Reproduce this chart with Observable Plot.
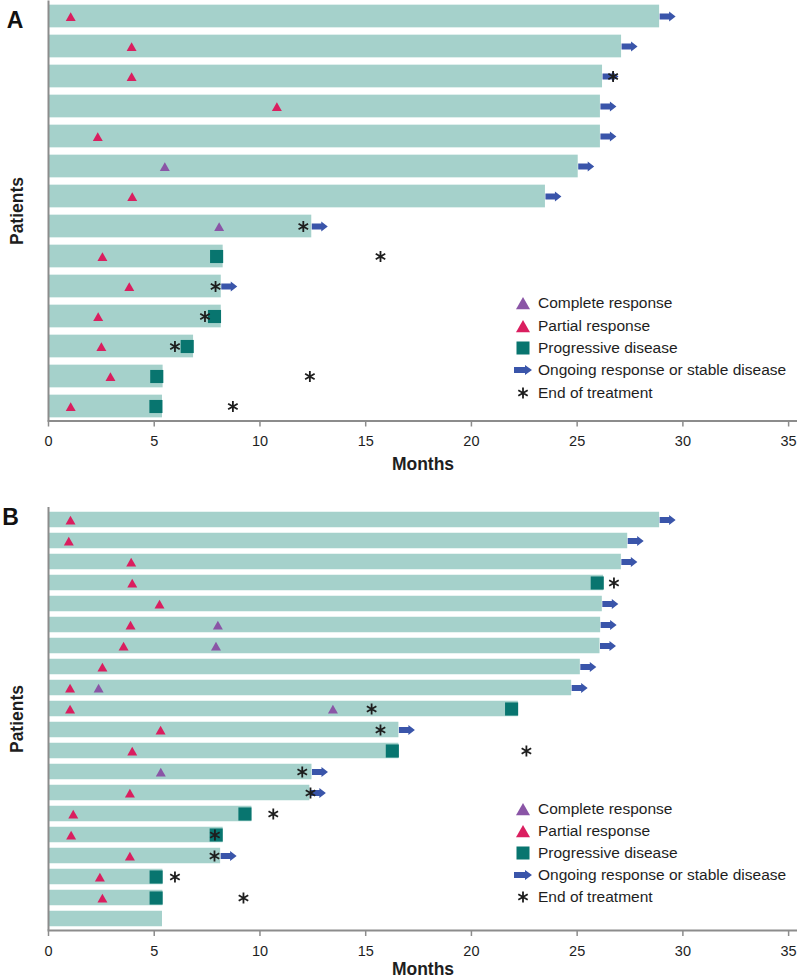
<!DOCTYPE html>
<html>
<head>
<meta charset="utf-8">
<script src="https://cdn.jsdelivr.net/npm/d3@7"></script>
<script src="https://cdn.jsdelivr.net/npm/@observablehq/plot@0.6"></script>
<style>
  html, body { margin: 0; padding: 0; background: #fff; }
  #wrap { position: relative; width: 797px; height: 980px; overflow: hidden; }
  .panel { position: absolute; left: 0; }
  .legend { position: absolute; font-family: 'Liberation Sans', Arial, Helvetica, sans-serif; font-size: 15.5px; color: #1e1e1e; }
  .legend .row { display: flex; align-items: center; white-space: nowrap; }
  .legend svg { display: block; margin-right: 4px; }
</style>
</head>
<body>
<div id="wrap">
  <div class="panel" id="pa" style="top:0px"></div>
  <div class="panel" id="pb" style="top:485px"></div>
  <div class="legend" id="la" style="left:512px;top:292px"></div>
  <div class="legend" id="lb" style="left:512px;top:798px"></div>
</div>
<script>
// ---------- data ----------
const monthTicks = [0, 5, 10, 15, 20, 25, 30, 35];
const legendLabels = ["Complete response", "Partial response", "Progressive disease", "Ongoing response or stable disease", "End of treatment"];

// Panel A (rows top to bottom)
const aRows = [1, 2, 3, 4, 5, 6, 7, 8, 9, 10, 11, 12, 13, 14];
const aEnd = [28.9, 27.1, 26.2, 26.1, 26.1, 25.05, 23.5, 12.45, 8.26, 8.17, 8.17, 6.86, 5.42, 5.39];
const aPartial = [[1, 1.05], [2, 3.93], [3, 3.93], [4, 10.8], [5, 2.33], [7, 3.96], [9, 2.55], [10, 3.82], [11, 2.35], [12, 2.5], [13, 2.93], [14, 1.05]];
const aComplete = [[6, 5.5], [8, 8.07]];
const aProgressive = [[9, 7.95], [11, 7.85], [12, 6.56], [13, 5.12], [14, 5.08]];
const aOngoing = [1, 2, 3, 4, 5, 6, 7, 8, 10];
const aEndTreatment = [[3, 26.7], [8, 12.05], [9, 15.7], [10, 7.9], [11, 7.4], [12, 5.98], [13, 12.36], [14, 8.72]];

// Panel B (rows top to bottom)
const bRows = [1, 2, 3, 4, 5, 6, 7, 8, 9, 10, 11, 12, 13, 14, 15, 16, 17, 18, 19, 20];
const bEnd = [28.9, 27.39, 27.09, 26.25, 26.19, 26.11, 26.08, 25.15, 24.74, 22.22, 16.57, 16.57, 12.46, 12.36, 9.62, 8.26, 8.14, 5.41, 5.41, 5.39];
const bPartial = [[1, 1.04], [2, 0.96], [3, 3.91], [4, 3.96], [5, 5.25], [6, 3.88], [7, 3.55], [8, 2.55], [9, 1.02], [10, 1.02], [11, 5.3], [12, 3.96], [14, 3.85], [15, 1.17], [16, 1.07], [17, 3.85], [18, 2.43], [19, 2.55]];
const bComplete = [[6, 8.01], [7, 7.92], [9, 2.37], [10, 13.45], [13, 5.31]];
const bProgressive = [[4, 25.95], [10, 21.9], [12, 16.26], [15, 9.29], [16, 7.93], [18, 5.09], [19, 5.09]];
const bOngoing = [1, 2, 3, 5, 6, 7, 8, 9, 11, 13, 14, 17];
const bEndTreatment = [[4, 26.74], [10, 15.28], [11, 15.7], [12, 22.6], [13, 12.0], [14, 12.39], [15, 10.63], [16, 7.87], [17, 7.85], [18, 5.98], [19, 9.22]];

// ---------- style ----------
const FONT = "'Liberation Sans', Arial, Helvetica, sans-serif";
const C = {
  bar: "#a5d1cb", partial: "#da1e5f", complete: "#8a55a6",
  progressive: "#08756f", ongoing: "#3a55aa", end: "#1e1e1e", axis: "#8c8c8c", text: "#1e1e1e"
};

const arrowSymbol = {
  draw(ctx) {
    ctx.moveTo(0, -3); ctx.lineTo(9.5, -3); ctx.lineTo(9.5, -5);
    ctx.lineTo(16, 0); ctx.lineTo(9.5, 5); ctx.lineTo(9.5, 3);
    ctx.lineTo(0, 3); ctx.closePath();
  }
};

function panel(cfg) {
  const bars = cfg.rows.map((r, i) => ({row: r, end: cfg.end[i]}));
  const ongoing = cfg.ongoing.map(r => ({row: r, end: cfg.end[r - 1]}));
  return Plot.plot({
    width: 797,
    height: cfg.height,
    marginLeft: 48,
    marginRight: 0,
    marginTop: cfg.marginTop,
    marginBottom: cfg.marginBottom,
    style: {fontFamily: FONT, background: "white", color: C.text, overflow: "visible"},
    x: {domain: [0, 35.42], axis: null},
    y: {domain: cfg.rows, padding: 0, axis: null},
    marks: [
      Plot.barX(bars, {x1: 0, x2: "end", y: "row", fill: C.bar, insetTop: cfg.inset, insetBottom: cfg.inset}),
      Plot.ruleX([0], {stroke: C.axis, strokeWidth: 2}),
      Plot.frame({anchor: "bottom", stroke: C.axis, strokeWidth: 2}),
      Plot.axisX(monthTicks, {tickSize: 6, tickPadding: 9, fontSize: 14.5, stroke: C.axis, strokeWidth: 1.5, fill: C.text, label: null}),
      Plot.dot(cfg.progressive, {x: d => d[1], y: d => d[0], symbol: "square", r: 7.4, fill: C.progressive, stroke: "none"}),
      Plot.dot(cfg.partial, {x: d => d[1], y: d => d[0], symbol: "triangle", r: 3.7, fill: C.partial, stroke: "none", dy: 1.5}),
      Plot.dot(cfg.complete, {x: d => d[1], y: d => d[0], symbol: "triangle", r: 3.7, fill: C.complete, stroke: "none", dy: 1.5}),
      Plot.dot(ongoing, {x: "end", y: "row", symbol: arrowSymbol, fill: C.ongoing, stroke: "none"}),
      Plot.dot(cfg.endTreatment, {x: d => d[1], y: d => d[0], symbol: "asterisk", r: 5.2, stroke: C.end, strokeWidth: 1.8, fill: "none"}),
      Plot.text(["Months"], {frameAnchor: "bottom", dy: cfg.monthsDy, textAnchor: "middle", lineAnchor: "middle", fontSize: 17.5, fontWeight: "bold", fill: C.text}),
      Plot.text(["Patients"], {frameAnchor: "left", dx: -31, rotate: -90, textAnchor: "middle", lineAnchor: "middle", fontSize: 17.5, fontWeight: "bold", fill: C.text}),
      Plot.text([cfg.letter], {frameAnchor: "top-left", dx: cfg.letterDx, dy: cfg.letterDy, textAnchor: "middle", lineAnchor: "middle", fontSize: 23, fontWeight: "bold", fill: "#111"})
    ]
  });
}

document.getElementById("pa").append(panel({
  letter: "A", letterDx: -33.5, letterDy: 19.5, monthsDy: 43,
  height: 485, marginTop: 0.5, marginBottom: 64.5, inset: 3.65,
  rows: aRows, end: aEnd, partial: aPartial, complete: aComplete,
  progressive: aProgressive, ongoing: aOngoing, endTreatment: aEndTreatment
}));

document.getElementById("pb").append(panel({
  letter: "B", letterDx: -38, letterDy: 10.5, monthsDy: 38.5,
  height: 495, marginTop: 22, marginBottom: 50, inset: 2.75,
  rows: bRows, end: bEnd, partial: bPartial, complete: bComplete,
  progressive: bProgressive, ongoing: bOngoing, endTreatment: bEndTreatment
}));

// ---------- legends ----------
const legendSymbols = [
  g => g.append("polygon").attr("points", "4,17.3 18,17.3 11,5").attr("fill", C.complete),
  g => g.append("polygon").attr("points", "4,17.3 18,17.3 11,5").attr("fill", C.partial),
  g => g.append("rect").attr("x", 4.5).attr("y", 4.5).attr("width", 13).attr("height", 13).attr("fill", C.progressive),
  g => g.append("path").attr("d", "M2,8 H13 V6 L20,11 L13,16 V14 H2 Z").attr("fill", C.ongoing),
  g => g.append("path").attr("d", "M11,5.6 V16.4 M6.3,8.3 L15.7,13.7 M6.3,13.7 L15.7,8.3").attr("stroke", C.end).attr("stroke-width", 1.8).attr("fill", "none")
];

function legend(id, rowH) {
  const box = d3.select("#" + id);
  legendLabels.forEach((lab, i) => {
    const row = box.append("div").attr("class", "row").style("height", rowH + "px");
    const svg = row.append("svg").attr("width", 22).attr("height", 22);
    legendSymbols[i](svg);
    row.append("span").text(lab);
  });
}
legend("la", 22.35);
legend("lb", 22.1);
</script>
</body>
</html>
